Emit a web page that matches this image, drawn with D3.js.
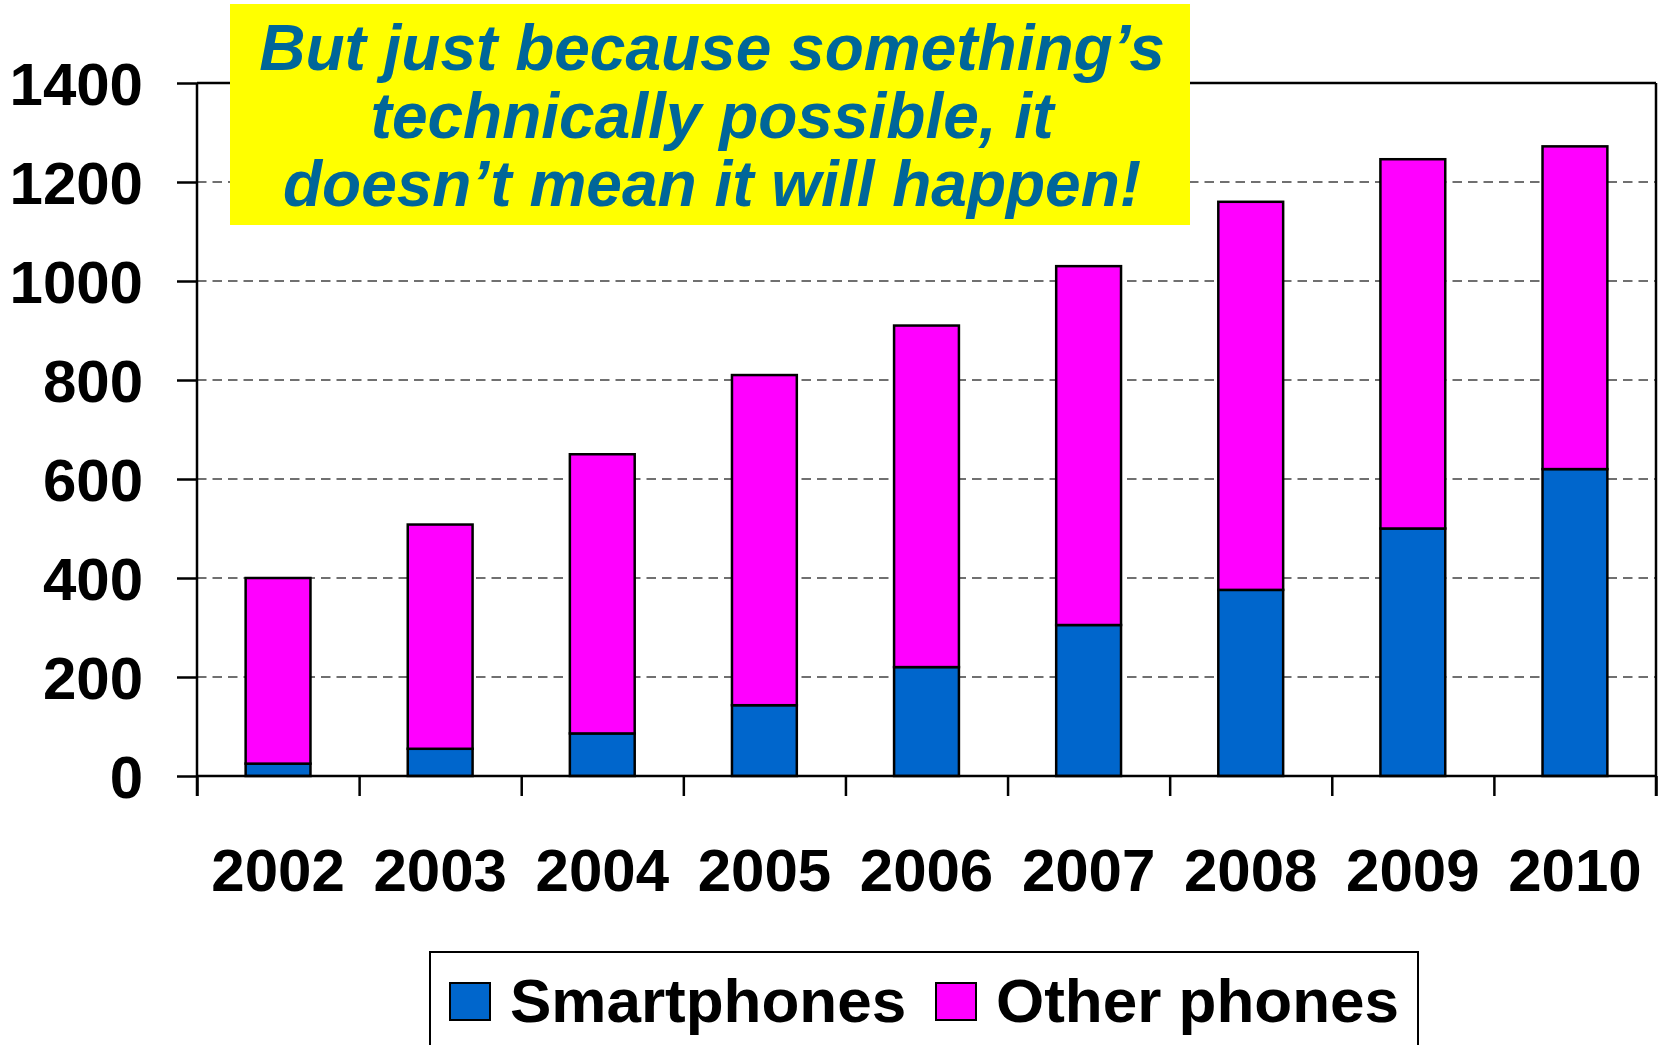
<!DOCTYPE html>
<html>
<head>
<meta charset="utf-8">
<script src="https://cdn.jsdelivr.net/npm/d3@7"></script>
<style>
  html, body { margin: 0; padding: 0; background: #fff; }
  svg { display: block; }
  text { font-family: "Liberation Sans", Arial, sans-serif; font-weight: bold; }
</style>
</head>
<body>
<svg id="chart" width="1662" height="1045"></svg>
<script>
// ---- data ----
const years = ["2002","2003","2004","2005","2006","2007","2008","2009","2010"];
const smartphones = [25, 55, 86, 143, 220, 305, 376, 500, 620];
const otherPhones = [375, 453, 564, 667, 690, 725, 784, 746, 652];
const yTicks = [0, 200, 400, 600, 800, 1000, 1200, 1400];
const seriesNames = ["Smartphones", "Other phones"];
const seriesColors = ["#0066CC", "#FF00FF"];
const calloutLines = ["But just because something\u2019s", "technically possible, it", "doesn\u2019t mean it will happen!"];

// ---- layout ----
const plotL = 197, plotR = 1656, plotT = 83, plotB = 776;
const svg = d3.select("#chart");

const x = d3.scaleBand().domain(years).range([plotL, plotR]).paddingInner(0.6).paddingOuter(0.3);
const xEdge = d3.scaleLinear().domain([0, years.length]).range([plotL, plotR]);
const y = d3.scaleLinear().domain([0, 1400]).range([plotB, plotT]);

// gridlines
svg.append("g").selectAll("line")
  .data(yTicks.filter(d => d > 0 && d < 1400))
  .join("line")
  .attr("x1", plotL).attr("x2", plotR)
  .attr("y1", d => y(d)).attr("y2", d => y(d))
  .attr("stroke", "#707070").attr("stroke-width", 2)
  .attr("stroke-dasharray", "9.5,6");

// stacked bars
const rows = years.map((yr, i) => ({ year: yr, Smartphones: smartphones[i], "Other phones": otherPhones[i] }));
const stacked = d3.stack().keys(seriesNames)(rows);
svg.append("g").selectAll("g")
  .data(stacked)
  .join("g")
  .attr("fill", (d, i) => seriesColors[i])
  .selectAll("rect")
  .data(d => d)
  .join("rect")
  .attr("x", d => x(d.data.year))
  .attr("width", x.bandwidth())
  .attr("y", d => y(d[1]))
  .attr("height", d => y(d[0]) - y(d[1]))
  .attr("stroke", "#000").attr("stroke-width", 2.5);

// y axis
const yAxis = svg.append("g").attr("transform", `translate(${plotL},0)`)
  .call(d3.axisLeft(y).tickValues(yTicks).tickSize(20).tickPadding(34).tickFormat(d3.format("d")));
yAxis.select(".domain").remove();
yAxis.selectAll(".tick line").attr("stroke", "#000").attr("stroke-width", 2.5);
yAxis.selectAll("text").attr("font-size", 60).attr("fill", "#000").attr("dy", "0.36em");

// x axis edge ticks
const xTickAxis = svg.append("g").attr("transform", `translate(0,${plotB})`)
  .call(d3.axisBottom(xEdge).tickValues(d3.range(0, years.length + 1)).tickSize(20).tickFormat(""));
xTickAxis.select(".domain").remove();
xTickAxis.selectAll(".tick line").attr("stroke", "#000").attr("stroke-width", 2.5);

// x labels
const xLab = svg.append("g").attr("transform", `translate(0,${plotB})`)
  .call(d3.axisBottom(x).tickSize(0).tickPadding(72));
xLab.select(".domain").remove();
xLab.selectAll("text").attr("font-size", 60).attr("fill", "#000");

// frame lines: left axis, bottom axis, top and right border
const frame = svg.append("g").attr("stroke", "#000").attr("stroke-width", 2.5).attr("fill", "none");
frame.append("line").attr("x1", plotL).attr("x2", plotL).attr("y1", plotT).attr("y2", plotB + 20);
frame.append("line").attr("x1", plotL).attr("x2", plotR).attr("y1", plotB).attr("y2", plotB);
frame.append("line").attr("x1", plotL).attr("x2", plotR).attr("y1", plotT).attr("y2", plotT);
frame.append("line").attr("x1", plotR).attr("x2", plotR).attr("y1", plotT).attr("y2", plotB + 20);

// callout box
svg.append("rect").attr("x", 230).attr("y", 4).attr("width", 960).attr("height", 221).attr("fill", "#FFFF00");
svg.append("g").selectAll("text")
  .data(calloutLines)
  .join("text")
  .attr("x", 712)
  .attr("y", (d, i) => 70 + i * 68)
  .attr("text-anchor", "middle")
  .attr("font-size", 64)
  .attr("font-style", "italic")
  .attr("fill", "#006699")
  .text(d => d);

// legend
const lg = svg.append("g");
lg.append("rect").attr("x", 430).attr("y", 952).attr("width", 988).attr("height", 130)
  .attr("fill", "#fff").attr("stroke", "#000").attr("stroke-width", 2);
const legendX = [450, 936];
const item = lg.selectAll("g.item").data(seriesNames).join("g").attr("class", "item")
  .attr("transform", (d, i) => `translate(${legendX[i]},983)`);
item.append("rect").attr("width", 40).attr("height", 37)
  .attr("fill", (d, i) => seriesColors[i]).attr("stroke", "#000").attr("stroke-width", 2);
item.append("text").attr("x", 60).attr("y", 39).attr("font-size", 62).attr("fill", "#000").text(d => d);
</script>
</body>
</html>
